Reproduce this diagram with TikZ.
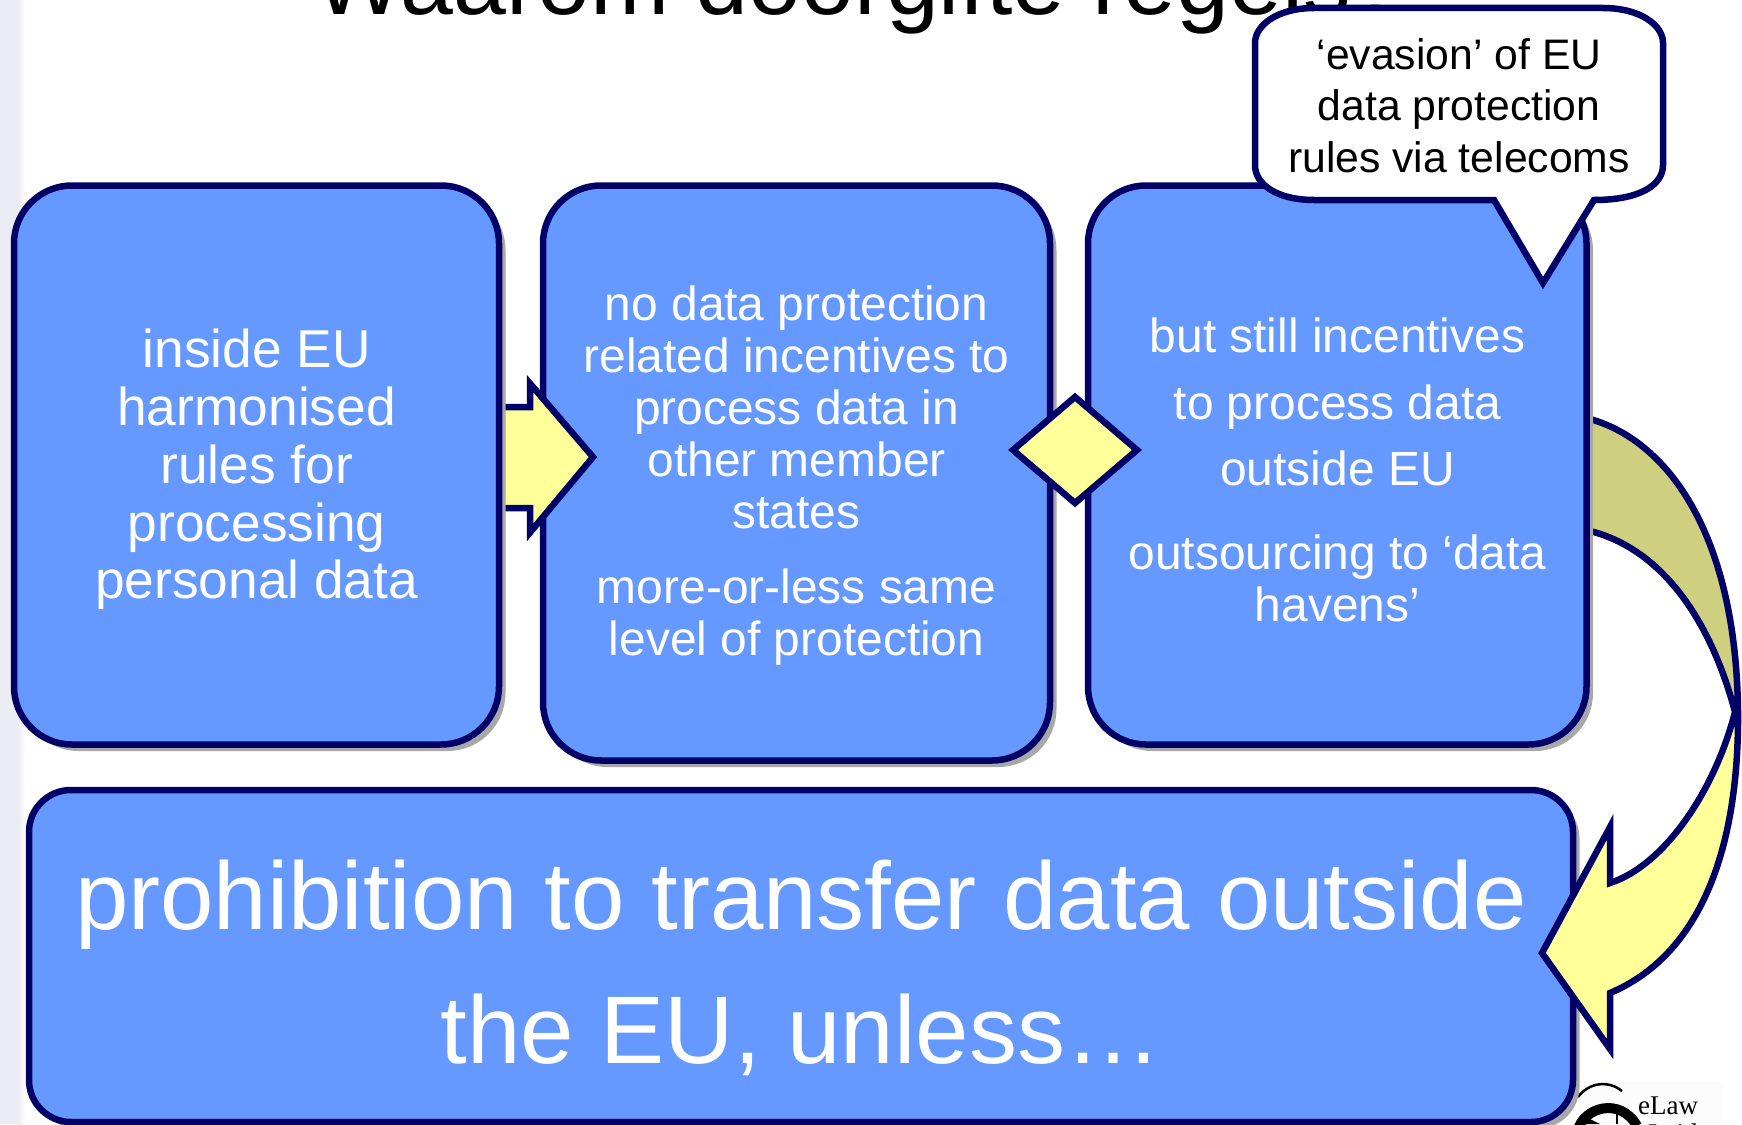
\documentclass[tikz,border=0pt]{standalone}
\usepackage{fontspec}
\setmainfont{Liberation Sans}
\newfontfamily\logofont{Liberation Serif}
\usetikzlibrary{shadows}
\definecolor{navy}{HTML}{000066}
\definecolor{boxblue}{HTML}{6699FF}
\definecolor{paleyellow}{HTML}{FFFF99}
\definecolor{olivefill}{HTML}{CFCF80}
\definecolor{shadowgray}{HTML}{A8A8A8}
\definecolor{bandgray}{HTML}{EBEBF3}
\tikzset{
  x=1pt,y=-1pt,
  bluebox/.style={draw=navy,fill=boxblue,line width=6.5pt,inner sep=0pt,outer sep=0pt,anchor=north west,
    drop shadow={shadow xshift=6.5pt,shadow yshift=-6.5pt,fill=shadowgray,opacity=1}},
  whitetext/.style={text=white,align=center,inner sep=0pt},
  blockarrow/.style={draw=navy,line width=6.5pt,miter limit=10},
}
\def\outerA{(1590,419) .. controls (1665,440) and (1736,530) .. (1738,712)}
\def\outerB{.. controls (1739,850) and (1700,955) .. (1610,993)}
\def\innerA{.. controls (1665,865) and (1715,790) .. (1735,712)}
\def\innerB{.. controls (1712,625) and (1665,550) .. (1590,531)}
\begin{document}
\begin{tikzpicture}
\useasboundingbox (0,0) rectangle (1742,1124);
\fill[white] (0,0) rectangle (1742,1124);
\shade[left color=bandgray,right color=white] (18,0) rectangle (25,1124);
\fill[bandgray] (0,0) rectangle (18,1124);
\fill[black!1] (1578,1082) rectangle (1723,1124);
\begin{scope}
\clip (0,0) rectangle (1742,1124);
\node[anchor=base,inner sep=0pt,font=\fontsize{95}{95}\selectfont] (title) at (859,15) {Waarom doorgifte regels?};
\draw[line width=2.5pt] (1578,1097) .. controls (1590,1081) and (1610,1081) .. (1622,1091);
\draw[line width=10pt] (1578,1130) .. controls (1583,1108) and (1620,1096) .. (1637,1126);
\fill (1584,1116) -- (1600,1124) -- (1584,1124) -- cycle;
\draw[line width=1.5pt] (1617,1110) -- (1617,1124);
\node[anchor=base west,inner sep=0pt,font=\logofont\fontsize{27}{27}\selectfont] (logo1) at (1638,1114) {eLaw};
\node[anchor=base west,inner sep=0pt,font=\logofont\fontsize{27}{27}\selectfont] (logo2) at (1648,1142) {Leiden};
\end{scope}
% box 2 and the first block arrow
\node[bluebox,rounded corners=58pt,minimum width=507pt,minimum height=575pt] (b2) at (543,185.5) {};
\draw[blockarrow,fill=paleyellow] (503,407) -- (530,407) -- (530,383.5) -- (593,457) -- (530,532.5) -- (530,508) -- (503,508);
\node[bluebox,rounded corners=58pt,minimum width=485pt,minimum height=559pt] (b1) at (14,185.5) {};
% box 4 and the curved arrow
\node[bluebox,rounded corners=42pt,minimum width=1544pt,minimum height=332pt] (b4) at (29,790) {};
\fill[olivefill] \outerA -- (1735,712) \innerB -- cycle;
\fill[paleyellow] (1738,712) \outerB -- (1610,1049) -- (1542,953) -- (1610,827) -- (1610,883) \innerA -- cycle;
\draw[blockarrow] \outerA \outerB -- (1610,1049) -- (1542,953) -- (1610,827) -- (1610,883) \innerA \innerB;
\node[bluebox,rounded corners=58pt,minimum width=498.5pt,minimum height=559pt] (b3) at (1088,185.5) {};
% diamond
\draw[blockarrow,fill=paleyellow] (1075,397) -- (1137,450) -- (1075,503) -- (1013,450) -- cycle;
% callout
\draw[draw=navy,fill=white,line width=6.5pt,miter limit=10] (1314,8) -- (1603,8) .. controls (1640,8) and (1663,25) .. (1663,43) -- (1663,165) .. controls (1663,185) and (1640,200) .. (1594,200) -- (1543,283) -- (1494,200) -- (1314,200) .. controls (1278,200) and (1255,185) .. (1255,165) -- (1255,43) .. controls (1255,25) and (1278,8) .. (1314,8) -- cycle;
% texts
\node[whitetext,font=\fontsize{53.3}{57.8}\selectfont] (t1) at (256.6,469.5) {inside EU\\harmonised\\rules for\\processing\\personal data};
\node[whitetext,font=\fontsize{47.9}{52}\selectfont] (t2) at (796.6,475.5) {no data protection\\related incentives to\\process data in\\other member\\states\\[23pt]more-or-less same\\level of protection};
\node[whitetext,font=\fontsize{47.9}{52}\selectfont] (t3) at (1337.5,470) {but still incentives\\[14.5pt]to process data\\[14.5pt]outside EU\\[32pt]outsourcing to ‘data\\havens’};
\node[whitetext,font=\fontsize{96}{134}\selectfont] (t4) at (801,968) {prohibition to transfer data outside\\the EU, unless…};
\node[align=center,inner sep=0pt,font=\fontsize{42.7}{51.5}\selectfont] (t5) at (1459,105.5) {‘evasion’ of EU\\data protection\\rules via telecoms};
\end{tikzpicture}
\end{document}
